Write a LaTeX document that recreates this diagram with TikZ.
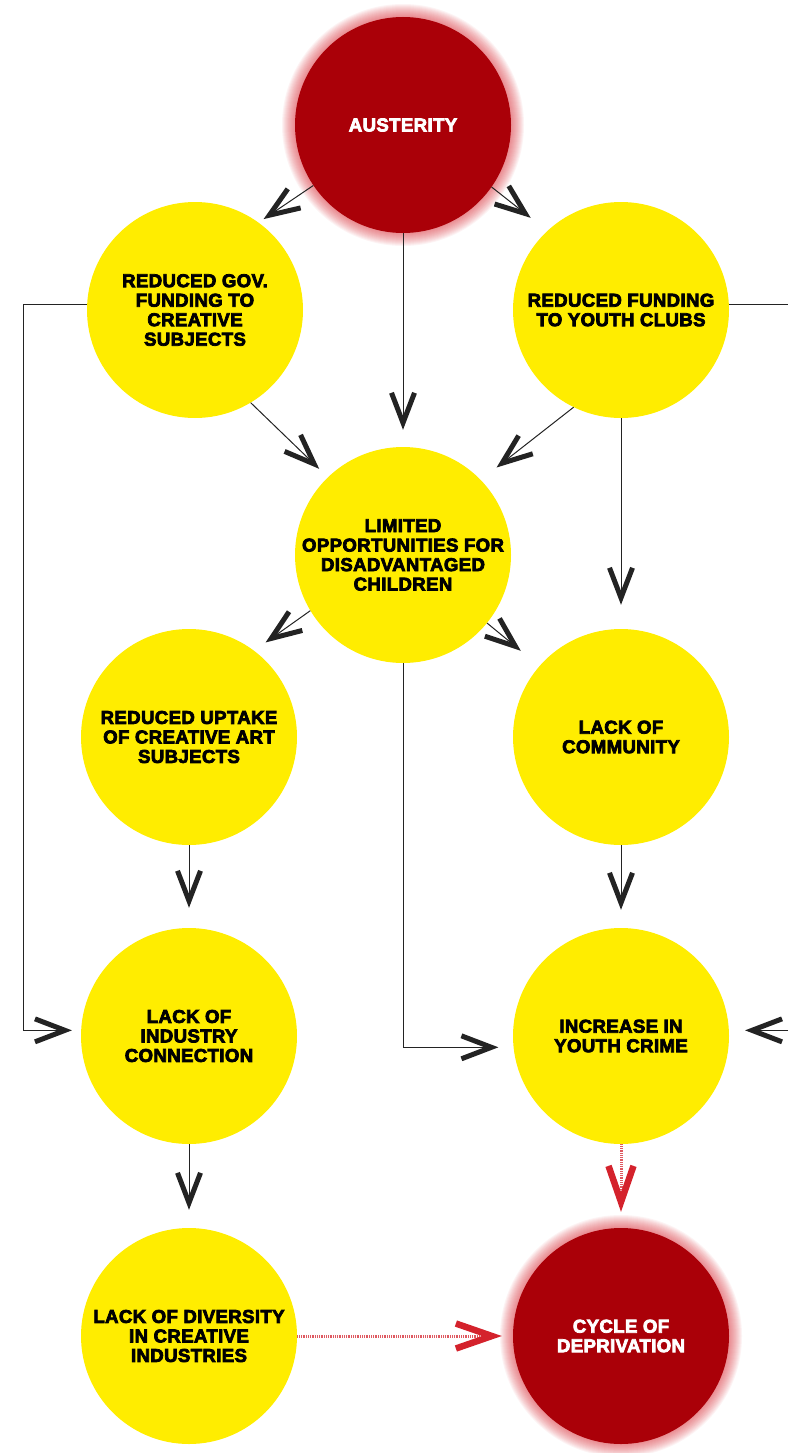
\documentclass[tikz,border=0pt]{standalone}
\usepackage{fontspec}
\newfontfamily\heavyfont{Liberation Sans}[UprightFont=* Bold, FakeBold=4, LetterSpace=2]
\usetikzlibrary{arrows.meta, backgrounds}
\definecolor{myyellow}{RGB}{255,237,0}
\definecolor{mydarkred}{RGB}{170,0,8}
\definecolor{myglow}{RGB}{214,40,50}
\definecolor{myred}{RGB}{212,34,44}
\definecolor{mygray}{RGB}{35,35,35}
\newcommand{\bubblesize}{216pt}
\tikzset{
    bubble/.style={circle, minimum size=\bubblesize, inner sep=0pt, align=center,
        font=\heavyfont\fontsize{18.6}{19.5}\selectfont},
    cool/.style={bubble, fill=myyellow, text=black},
    hot/.style={bubble, fill=mydarkred, text=white},
    arr/.style={draw=mygray, line width=1pt,
        -{Straight Barb[length=30pt, width=23pt, line width=5pt]}},
    redarr/.style={draw=myred!75, line width=3pt, dash pattern=on 0.9pt off 0.9pt,
        -{Straight Barb[length=36pt, width=25pt, line width=6.5pt, color=myred]}}
}

\begin{document}
\begin{tikzpicture}[x=1pt, y=-1pt]
    \useasboundingbox (0,0) rectangle (788,1453);
    \coordinate (leftrail) at (23,0);
    \coordinate (rightedge) at (788,0);

    \node[hot] (austerity) at (403,125) {AUSTERITY};
    \node[cool] (govfund) at (195,310) {REDUCED GOV.\\FUNDING TO\\CREATIVE\\SUBJECTS};
    \node[cool] (youthfund) at (621,310) {REDUCED FUNDING\\TO YOUTH CLUBS};
    \node[cool] (limited) at (403,555) {LIMITED\\OPPORTUNITIES FOR\\DISADVANTAGED\\CHILDREN};
    \node[cool] (uptake) at (189,737) {REDUCED UPTAKE\\OF CREATIVE ART\\SUBJECTS};
    \node[cool] (community) at (621,737) {LACK OF\\COMMUNITY};
    \node[cool] (industry) at (189,1036) {LACK OF\\INDUSTRY\\CONNECTION};
    \node[cool] (crime) at (621,1036) {INCREASE IN\\YOUTH CRIME};
    \node[cool] (diversity) at (189,1336) {LACK OF DIVERSITY\\IN CREATIVE\\INDUSTRIES};
    \node[hot] (cycle) at (621,1336) {CYCLE OF\\DEPRIVATION};

    % soft halo round the red ones
    \begin{pgfonlayer}{background}
        \foreach \n in {austerity, cycle}
            \foreach \r in {108,109,...,121}
                \fill[myglow, opacity=0.055] (\n) circle (\r pt);
    \end{pgfonlayer}

    \draw[arr, shorten >=6pt] (austerity.214) -- (govfund.54);
    \draw[arr, shorten >=21pt] (austerity.325) -- (youthfund.133);
    \draw[arr, shorten >=17pt] (austerity.south) -- (limited.north);
    \draw[arr, shorten >=12pt] (govfund.301) -- (limited.134);
    \draw[arr, shorten >=20pt] (youthfund.244) -- (limited.44);
    \draw[arr, shorten >=24pt] (youthfund.south) -- (community.north);
    \draw[arr, shorten >=14pt] (limited.211) -- (uptake.53);
    \draw[arr, shorten >=24pt] (limited.321) -- (community.139);
    \draw[arr, shorten >=15pt] (limited.south) |- (crime.186);
    \draw[arr, shorten >=20pt] (uptake.south) -- (industry.north);
    \draw[arr, shorten >=18pt] (community.south) -- (crime.north);
    \draw[arr, shorten >=18pt] (industry.south) -- (diversity.north);
    \draw[arr, shorten >=9pt] (govfund.177) -| (leftrail |- industry.177) -- (industry.177);
    \draw[mygray, line width=1pt] (youthfund.3) -- (rightedge |- youthfund.3);
    \draw[arr, shorten >=16pt] (rightedge |- crime.3) -- (crime.3);
    \draw[redarr, shorten >=16pt] (crime.south) -- (cycle.north);
    \draw[redarr, shorten >=11pt] (diversity.east) -- (cycle.west);
\end{tikzpicture}
\end{document}
